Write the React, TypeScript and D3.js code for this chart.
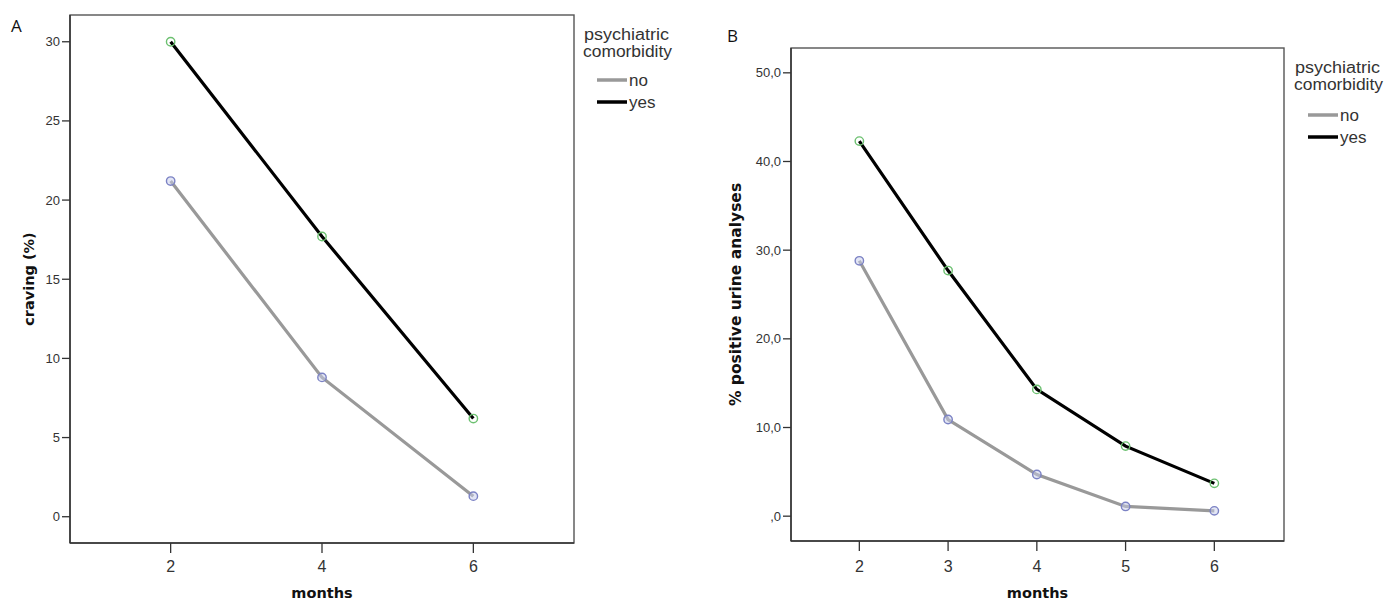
import React from "react";
import * as d3 from "d3";

const monthsA = [2, 4, 6];
const cravingNo = [21.2, 8.8, 1.3];
const cravingYes = [30.0, 17.7, 6.2];
const ticksAY = [0, 5, 10, 15, 20, 25, 30];

const monthsB = [2, 3, 4, 5, 6];
const urineNo = [28.8, 10.9, 4.7, 1.1, 0.6];
const urineYes = [42.3, 27.7, 14.3, 7.9, 3.7];
const ticksBY = [0, 10, 20, 30, 40, 50];

const legendTitle = ["psychiatric", "comorbidity"];
const legendLabels = ["no", "yes"];

const FONT = "'Liberation Sans', Arial, sans-serif";
const BOLD = "'DejaVu Sans', Verdana, sans-serif";

type PanelProps = {
  x0: number; x1: number; y0: number; y1: number;
  xDomain: [number, number]; yDomain: [number, number];
  xTicks: number[]; yTicks: number[]; yFmt: (v: number) => string;
  months: number[]; no: number[]; yes: number[];
  yLabel: string; yLabelX: number; yLabelSize: number;
  legendX: number; legendY: number; legendGap: number;
};

function Panel(p: PanelProps) {
  const x = d3.scaleLinear().domain(p.xDomain).range([p.x0, p.x1]);
  const y = d3.scaleLinear().domain(p.yDomain).range([p.y1, p.y0]);
  const line = d3.line<number>().x((_, i) => x(p.months[i])).y((d) => y(d));
  const cy = (p.y0 + p.y1) / 2;
  const cx = (p.x0 + p.x1) / 2;
  return (
    <g>
      <rect x={p.x0} y={p.y0} width={p.x1 - p.x0} height={p.y1 - p.y0} fill="none" stroke="#555" strokeWidth={1.4} />
      <line x1={p.x0} x2={p.x0} y1={p.y0} y2={p.y1} stroke="#333" strokeWidth={1.5} />
      <line x1={p.x0} x2={p.x1} y1={p.y1} y2={p.y1} stroke="#333" strokeWidth={1.5} />
      {p.yTicks.map((t) => (
        <g key={"y" + t}>
          <line x1={p.x0 - 8} x2={p.x0} y1={y(t)} y2={y(t)} stroke="#333" strokeWidth={1.3} />
          <text x={p.x0 - 10} y={y(t)} dy="0.35em" textAnchor="end" fontSize={13} fill="#333" fontFamily={FONT}>{p.yFmt(t)}</text>
        </g>
      ))}
      {p.xTicks.map((t) => (
        <g key={"x" + t}>
          <line x1={x(t)} x2={x(t)} y1={p.y1} y2={p.y1 + 10} stroke="#333" strokeWidth={1.3} />
          <text x={x(t)} y={572} textAnchor="middle" fontSize={16} fill="#333" fontFamily={FONT}>{t}</text>
        </g>
      ))}
      <text x={cx} y={598} textAnchor="middle" fontSize={14.5} fontWeight="bold" fill="#111" fontFamily={BOLD}>months</text>
      <text transform={`translate(${p.yLabelX},${cy}) rotate(-90)`} textAnchor="middle" fontSize={p.yLabelSize} fontWeight="bold" fill="#111" fontFamily={BOLD}>{p.yLabel}</text>
      <path d={line(p.no) || ""} fill="none" stroke="#999" strokeWidth={3.2} />
      <path d={line(p.yes) || ""} fill="none" stroke="#000" strokeWidth={3.2} />
      {p.no.map((v, i) => (
        <circle key={"n" + i} cx={x(p.months[i])} cy={y(v)} r={4.2} fill="rgba(200,205,235,0.5)" stroke="#7b82c4" strokeWidth={1.4} />
      ))}
      {p.yes.map((v, i) => (
        <circle key={"s" + i} cx={x(p.months[i])} cy={y(v)} r={4.2} fill="none" stroke="#6cc070" strokeWidth={1.4} />
      ))}
      <g fontFamily={FONT} fill="#333">
        <text x={p.legendX} y={p.legendY} fontSize={16} textLength={85} lengthAdjust="spacingAndGlyphs">{legendTitle[0]}</text>
        <text x={p.legendX - 1} y={p.legendY + 17} fontSize={16} textLength={89} lengthAdjust="spacingAndGlyphs">{legendTitle[1]}</text>
        {legendLabels.map((l, i) => (
          <g key={l}>
            <line x1={p.legendX + 13} x2={p.legendX + 43} y1={p.legendY + p.legendGap + i * 22} y2={p.legendY + p.legendGap + i * 22} stroke={i === 0 ? "#999" : "#000"} strokeWidth={3.5} />
            <text x={p.legendX + 45} y={p.legendY + p.legendGap + i * 22} dy="0.35em" fontSize={17}>{l}</text>
          </g>
        ))}
      </g>
    </g>
  );
}

export default function App() {
  return (
    <svg width={1400} height={603} style={{ position: "absolute", left: 0, top: 0, background: "#fff" }}>
      <text x={11} y={32} fontSize={17} fontFamily="'Open Sans', sans-serif" fill="#111">A</text>
      <text x={727} y={42} fontSize={17} fontFamily="'Open Sans', sans-serif" fill="#111">B</text>
      <Panel
        x0={70} x1={574} y0={15} y1={543}
        xDomain={[0.67, 7.33]} yDomain={[-1.66, 31.69]}
        xTicks={monthsA} yTicks={ticksAY} yFmt={(v) => String(v)}
        months={monthsA} no={cravingNo} yes={cravingYes}
        yLabel="craving (%)" yLabelX={34} yLabelSize={14.5}
        legendX={584} legendY={40} legendGap={40}
      />
      <Panel
        x0={791} x1={1284} y0={48} y1={541}
        xDomain={[1.23, 6.785]} yDomain={[-2.8, 52.8]}
        xTicks={monthsB} yTicks={ticksBY} yFmt={(v) => (v === 0 ? ",0" : d3.format(".1f")(v).replace(".", ","))}
        months={monthsB} no={urineNo} yes={urineYes}
        yLabel="% positive urine analyses" yLabelX={741} yLabelSize={15.5}
        legendX={1295} legendY={73} legendGap={42}
      />
    </svg>
  );
}
